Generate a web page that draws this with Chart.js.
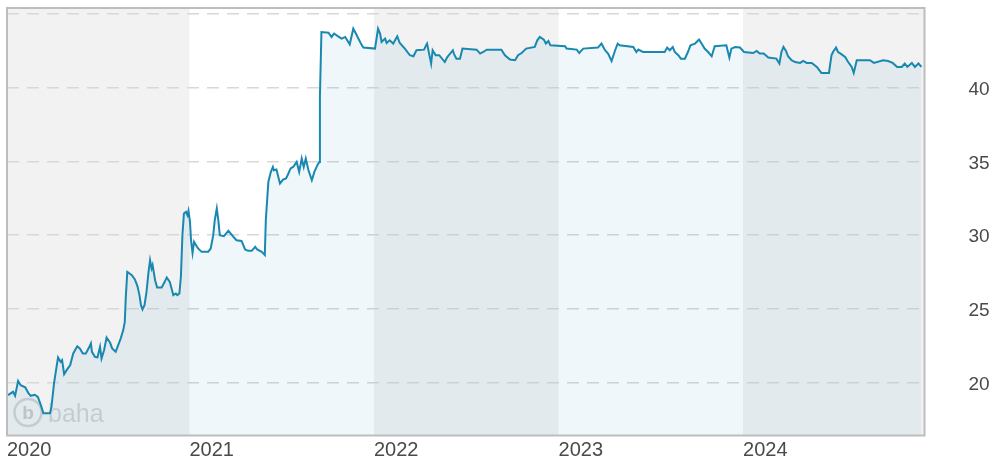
<!DOCTYPE html>
<html>
<head>
<meta charset="utf-8">
<script src="https://cdn.jsdelivr.net/npm/chart.js@4.4.0/dist/chart.umd.min.js"></script>
<style>
  html, body { margin: 0; padding: 0; background: #fff; }
  #wrap { width: 992px; height: 461px; }
</style>
</head>
<body>
<div id="wrap"><canvas id="chart" width="992" height="461"></canvas></div>
<script>
// price history
const dates = [
  '2020-01-08','2020-01-18','2020-01-22','2020-01-28','2020-02-02','2020-02-11','2020-02-17','2020-02-22',
  '2020-03-01','2020-03-07','2020-03-13','2020-03-18','2020-03-31','2020-04-03','2020-04-08','2020-04-13',
  '2020-04-16','2020-04-21','2020-04-24','2020-04-28','2020-05-03','2020-05-10','2020-05-16','2020-05-24',
  '2020-05-29','2020-06-04','2020-06-10','2020-06-17','2020-06-20','2020-06-22','2020-06-28','2020-07-03',
  '2020-07-08','2020-07-11','2020-07-16','2020-07-21','2020-07-28','2020-08-01','2020-08-08','2020-08-13',
  '2020-08-18','2020-08-23','2020-08-26','2020-08-28','2020-08-31','2020-09-09','2020-09-15','2020-09-20',
  '2020-09-24','2020-09-27','2020-09-30','2020-10-04','2020-10-08','2020-10-12','2020-10-15','2020-10-18',
  '2020-10-20','2020-10-25','2020-10-29','2020-11-07','2020-11-13','2020-11-17','2020-11-23','2020-11-26',
  '2020-11-30','2020-12-05','2020-12-08','2020-12-12','2020-12-15','2020-12-18','2020-12-21','2020-12-25',
  '2020-12-28','2020-12-30',
  '2021-01-02','2021-01-04','2021-01-07','2021-01-10','2021-01-14','2021-01-18','2021-01-25','2021-02-07',
  '2021-02-12','2021-02-17','2021-02-20','2021-02-24','2021-02-27','2021-03-02','2021-03-10','2021-03-19',
  '2021-03-29','2021-04-04','2021-04-14','2021-04-21','2021-04-27','2021-05-04','2021-05-11','2021-05-15',
  '2021-05-24','2021-05-30','2021-06-01','2021-06-06','2021-06-11','2021-06-15','2021-06-17','2021-06-22',
  '2021-06-29','2021-07-05','2021-07-11','2021-07-15','2021-07-20','2021-07-25','2021-08-01','2021-08-06',
  '2021-08-11','2021-08-15','2021-08-19','2021-08-24','2021-08-31','2021-09-05','2021-09-12','2021-09-15',
  '2021-09-16','2021-09-19','2021-10-03','2021-10-09','2021-10-14','2021-10-22','2021-10-29','2021-11-05',
  '2021-11-09','2021-11-14','2021-11-21','2021-11-28','2021-12-01','2021-12-08','2021-12-11',
  '2022-01-03','2022-01-09','2022-01-13','2022-01-16','2022-01-23','2022-01-26','2022-02-01','2022-02-08',
  '2022-02-16','2022-02-21','2022-03-03','2022-03-13','2022-03-20','2022-03-26','2022-04-10','2022-04-14',
  '2022-04-16','2022-04-20','2022-04-24','2022-04-27','2022-05-03','2022-05-10','2022-05-21','2022-05-26',
  '2022-06-06','2022-06-08','2022-06-13','2022-06-20','2022-06-25','2022-07-23','2022-07-30','2022-08-05',
  '2022-08-12','2022-09-10','2022-09-17','2022-09-27','2022-10-07','2022-10-13','2022-10-20','2022-10-29',
  '2022-11-15','2022-11-20','2022-11-25','2022-12-03','2022-12-07','2022-12-12','2022-12-16',
  '2023-01-14','2023-01-17','2023-02-06','2023-02-11','2023-02-19','2023-03-20','2023-03-27','2023-04-03',
  '2023-04-09','2023-04-16','2023-04-23','2023-04-28','2023-05-02','2023-05-29','2023-06-04','2023-06-08',
  '2023-06-17','2023-07-30','2023-08-04','2023-08-09','2023-08-15','2023-08-19','2023-08-26','2023-08-31',
  '2023-09-08','2023-09-14','2023-09-19','2023-09-28','2023-10-06','2023-10-11','2023-10-17','2023-10-24',
  '2023-10-31','2023-11-06','2023-11-29','2023-12-05','2023-12-09','2023-12-16','2023-12-26',
  '2024-01-03','2024-01-21','2024-01-28','2024-02-03','2024-02-11','2024-02-20','2024-03-07','2024-03-13',
  '2024-03-17','2024-03-21','2024-03-26','2024-03-30','2024-04-06','2024-04-13','2024-04-23','2024-04-29',
  '2024-05-06','2024-05-16','2024-05-26','2024-06-04','2024-06-19','2024-06-24','2024-06-27','2024-07-03',
  '2024-07-07','2024-07-12','2024-07-21','2024-07-27','2024-08-03','2024-08-07','2024-08-13','2024-09-08',
  '2024-09-16','2024-10-04','2024-10-14','2024-10-23','2024-11-01','2024-11-10','2024-11-16','2024-11-21',
  '2024-11-30','2024-12-06','2024-12-13','2024-12-19'
];
const prices = [
  19.17, 19.39, 19.12, 20.12, 19.84, 19.69, 19.32, 19.12,
  19.19, 19.05, 18.49, 17.93, 17.93, 18.38, 19.96, 21.08,
  21.72, 21.42, 21.54, 20.59, 20.86, 21.20, 21.99, 22.48,
  22.33, 21.99, 21.99, 22.44, 22.67, 22.10, 21.76, 21.72,
  22.44, 21.65, 22.21, 23.07, 22.71, 22.33, 22.10, 22.55,
  23.01, 23.57, 24.13, 25.82, 27.52, 27.29, 27.00, 26.55,
  25.94, 25.26, 24.97, 25.26, 26.16, 27.52, 28.31, 27.75,
  27.97, 26.95, 26.46, 26.46, 26.84, 27.14, 26.84, 26.46,
  25.94, 26.05, 25.94, 26.05, 27.18, 30.00, 31.47, 31.58,
  31.35, 31.65,
  30.90, 29.66, 28.80, 29.55, 29.32, 29.10, 28.87, 28.87,
  29.10, 30.00, 31.02, 31.81, 31.02, 30.00, 29.93, 30.29,
  29.89, 29.66, 29.61, 29.03, 28.94, 28.94, 29.21, 29.03,
  28.87, 28.65, 31.02, 33.61, 34.29, 34.62, 34.40, 34.45,
  33.50, 33.77, 33.84, 34.13, 34.52, 34.62, 34.96, 34.29,
  35.19, 34.62, 35.19, 34.45, 33.72, 34.29, 34.81, 34.96,
  39.36, 43.76, 43.72, 43.43, 43.66, 43.47, 43.32, 43.43,
  43.20, 42.93, 43.99, 43.54, 43.32, 42.86, 42.71,
  42.64, 43.99, 43.66, 43.09, 43.32, 43.02, 43.20, 42.98,
  43.47, 43.02, 42.64, 42.19, 42.12, 42.53, 42.57, 42.86,
  42.98, 42.30, 41.62, 42.53, 42.19, 42.19, 41.73, 42.07,
  42.53, 42.30, 41.96, 41.96, 42.64, 42.57, 42.30, 42.41,
  42.57, 42.57, 42.19, 41.90, 41.85, 42.19, 42.34, 42.64,
  42.75, 43.20, 43.43, 43.25, 42.98, 43.15, 42.86,
  42.80, 42.64, 42.57, 42.34, 42.64, 42.71, 42.98, 42.53,
  42.30, 41.80, 42.53, 42.98, 42.86, 42.75, 42.41, 42.57,
  42.41, 42.41, 42.71, 42.53, 42.75, 42.41, 42.19, 41.96,
  41.96, 42.41, 42.86, 42.98, 43.25, 42.98, 42.64, 42.41,
  42.12, 42.80, 42.86, 42.03, 42.64, 42.75, 42.71,
  42.41, 42.34, 42.48, 42.30, 42.30, 42.03, 41.96, 41.63,
  42.41, 42.75, 42.48, 42.12, 41.85, 41.73, 41.67, 41.80,
  41.67, 41.67, 41.40, 40.99, 40.99, 42.19, 42.41, 42.71,
  42.41, 42.30, 42.07, 41.73, 41.40, 40.99, 41.85, 41.85,
  41.67, 41.85, 41.80, 41.67, 41.40, 41.40, 41.63, 41.40,
  41.67, 41.40, 41.63, 41.40
];
const years = ['2020', '2021', '2022', '2023', '2024'];
const yGrid = [20, 25, 30, 35, 40, 45];
const yLabels = ['20', '25', '30', '35', '40', ''];
const xMin = '2020-01-06', xMax = '2024-12-25';
const yMin = 16.43, yMax = 45.39;

const FONT = "'Liberation Sans', Arial, sans-serif";
const day = s => Date.UTC(+s.slice(0, 4), +s.slice(5, 7) - 1, +s.slice(8, 10));
const yearStart = y => Math.max(day(y + '-01-01'), day(xMin));
const noPad = s => { s.paddingTop = s.paddingBottom = s.paddingLeft = s.paddingRight = 0; };

// alternating year bands, grey / white
const bands = {
  id: 'bands',
  beforeDraw(chart) {
    const { ctx, chartArea: a, scales: { x } } = chart;
    ctx.save();
    ctx.fillStyle = '#fff';
    ctx.fillRect(0, 0, chart.width, chart.height);
    ctx.fillStyle = '#f2f2f2';
    years.forEach((y, i) => {
      if (i % 2) return;
      const x0 = Math.max(a.left, x.getPixelForValue(yearStart(y)));
      const x1 = i + 1 < years.length ? x.getPixelForValue(day(years[i + 1] + '-01-01')) : a.right;
      ctx.fillRect(x0, a.top, x1 - x0, a.bottom - a.top);
    });
    ctx.restore();
  },
  beforeDatasetsDraw(chart) {
    // faint "baha" watermark, bottom left
    const { ctx, chartArea: a } = chart;
    const cx = a.left + 21, cy = a.bottom - 23;
    ctx.save();
    ctx.strokeStyle = 'rgba(150,150,150,0.35)';
    ctx.lineWidth = 2.5;
    ctx.beginPath();
    ctx.arc(cx, cy, 13.5, 0, Math.PI * 2);
    ctx.stroke();
    ctx.fillStyle = 'rgba(150,150,150,0.45)';
    ctx.font = 'bold 19px ' + FONT;
    ctx.textAlign = 'center';
    ctx.textBaseline = 'middle';
    ctx.fillText('b', cx, cy + 1);
    ctx.fillStyle = 'rgba(150,150,150,0.35)';
    ctx.font = '25px ' + FONT;
    ctx.textAlign = 'left';
    ctx.textBaseline = 'alphabetic';
    ctx.fillText('baha', a.left + 41, a.bottom - 14);
    ctx.restore();
  },
  afterDraw(chart) {
    const { ctx, chartArea: a } = chart;
    ctx.save();
    ctx.strokeStyle = '#bdbdbd';
    ctx.lineWidth = 2;
    ctx.strokeRect(a.left, a.top, a.right - a.left, a.bottom - a.top);
    ctx.restore();
  }
};

const points = prices.map((p, i) => ({ x: day(dates[i]), y: p }));

new Chart(document.getElementById('chart'), {
  type: 'line',
  data: {
    datasets: [{
      data: points,
      borderColor: '#1888b0',
      borderWidth: 2,
      pointRadius: 0,
      tension: 0,
      fill: 'start',
      backgroundColor: 'rgba(27,141,184,0.07)'
    }]
  },
  options: {
    responsive: false,
    animation: false,
    layout: { padding: { left: 7, top: 8 } },
    plugins: { legend: { display: false }, tooltip: { enabled: false } },
    scales: {
      x: {
        type: 'linear',
        min: day(xMin),
        max: day(xMax),
        border: { display: false },
        grid: { display: false, drawTicks: false },
        afterFit(s) { s.height = 25.5; noPad(s); },
        afterBuildTicks(s) { s.ticks = years.map(y => ({ value: yearStart(y) })); },
        ticks: {
          autoSkip: false,
          maxRotation: 0,
          align: 'start',
          padding: 3,
          color: '#4a4a4a',
          font: { family: FONT, size: 20 },
          callback: (v, i) => years[i]
        }
      },
      y: {
        position: 'right',
        min: yMin,
        max: yMax,
        border: { display: false, dash: [12, 8] },
        grid: { color: '#d8d8d8', lineWidth: 1.6, drawTicks: false },
        afterFit(s) { s.width = 67.5; noPad(s); },
        afterBuildTicks(s) { s.ticks = yGrid.map(v => ({ value: v })); },
        ticks: {
          padding: 44,
          labelOffset: 2,
          color: '#4a4a4a',
          font: { family: FONT, size: 19 },
          callback: (v, i) => yLabels[i]
        }
      }
    }
  },
  plugins: [bands]
});
</script>
</body>
</html>
